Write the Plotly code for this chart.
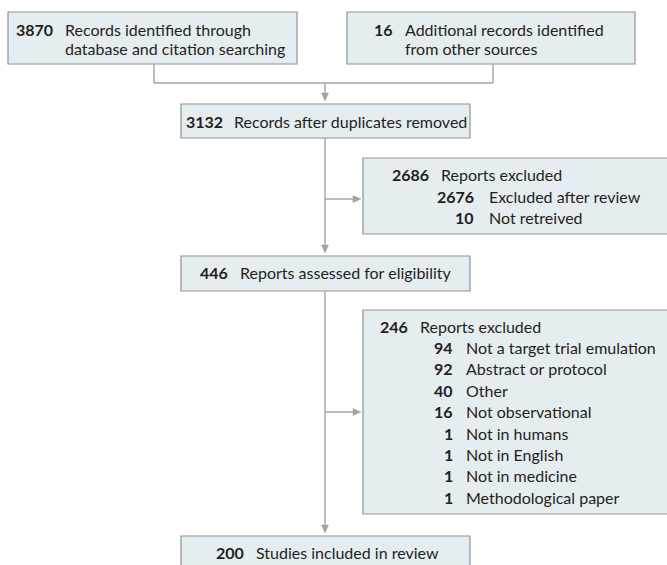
import plotly.graph_objects as go

# ---- data ----
main_counts = [3870, 16, 3132, 446, 200]
main_labels = [
    "Records identified through<br>database and citation searching",
    "Additional records identified<br>from other sources",
    "Records after duplicates removed",
    "Reports assessed for eligibility",
    "Studies included in review",
]
excl1_total = 2686
excl1_title = "Reports excluded"
excl1_counts = [2676, 10]
excl1_labels = ["Excluded after review", "Not retreived"]
excl2_total = 246
excl2_title = "Reports excluded"
excl2_counts = [94, 92, 40, 16, 1, 1, 1, 1]
excl2_labels = [
    "Not a target trial emulation",
    "Abstract or protocol",
    "Other",
    "Not observational",
    "Not in humans",
    "Not in English",
    "Not in medicine",
    "Methodological paper",
]

# ---- layout (pixel coordinates) ----
W, H = 667, 565
FILL = "#e6edf1"
BORDER = "#8e9296"
LINE = "#a3a3a3"
TXT = "#231f20"
FONT = "Lato, Roboto, sans-serif"
FS = 16
DY = -1  # small vertical text nudge

main_boxes = [(8, 297, 12, 64), (347, 635, 12, 64), (181, 470, 104, 138),
              (181, 470, 256, 291), (181, 470, 536, 590)]
# (number right edge, label left edge, first line y, line gap)
main_text = [(55, 63, 30, 19), (395, 403, 30, 19), (225, 232, 122, 0),
             (230, 238, 273, 0), (246, 254, 553, 0)]
excl_boxes = [(363, 690, 158, 234), (363, 690, 310, 514)]

shapes = []
annotations = []

def box(x0, x1, y0, y1):
    shapes.append(dict(type="rect", x0=x0, x1=x1, y0=y0, y1=y1, xref="x", yref="y",
                       fillcolor=FILL, line=dict(color=BORDER, width=1.2), layer="below"))

def line(x0, y0, x1, y1):
    shapes.append(dict(type="line", x0=x0, x1=x1, y0=y0, y1=y1, xref="x", yref="y",
                       line=dict(color=LINE, width=1.4)))

def arrow_down(x, tip):
    shapes.append(dict(type="path", path=f"M {x-3.5} {tip-8} L {x+3.5} {tip-8} L {x} {tip} Z",
                       fillcolor=LINE, line=dict(color=LINE, width=0.5)))

def arrow_right(tip, y):
    shapes.append(dict(type="path", path=f"M {tip-8} {y-3.5} L {tip-8} {y+3.5} L {tip} {y} Z",
                       fillcolor=LINE, line=dict(color=LINE, width=0.5)))

def text(x, y, s, anchor, bold=False):
    annotations.append(dict(x=x, y=y + DY, xref="x", yref="y", text=(f"<b>{s}</b>" if bold else s),
                            showarrow=False, xanchor=anchor, yanchor="middle",
                            font=dict(family=FONT, size=FS, color=TXT)))

for b in main_boxes + excl_boxes:
    box(*b)

for (nr, ll, y, gap), n, lab in zip(main_text, main_counts, main_labels):
    text(nr, y, str(n), "right", True)
    for i, part in enumerate(lab.split("<br>")):
        text(ll, y + i * gap, part, "left")

# exclusion box 1
text(431, 175, str(excl1_total), "right", True)
text(439, 175, excl1_title, "left")
for i, (n, lab) in enumerate(zip(excl1_counts, excl1_labels)):
    y = 197 + i * 21.5
    text(476, y, str(n), "right", True)
    text(487, y, lab, "left")

# exclusion box 2
text(410, 327, str(excl2_total), "right", True)
text(418, 327, excl2_title, "left")
for i, (n, lab) in enumerate(zip(excl2_counts, excl2_labels)):
    y = 348.5 + i * 21.4
    text(455, y, str(n), "right", True)
    text(464, y, lab, "left")

# connectors
line(154, 64, 154, 83)
line(493, 64, 493, 83)
line(154, 83, 493, 83)
line(325, 83, 325, 94)
arrow_down(325, 101)
line(325, 138, 325, 246)
arrow_down(325, 253)
line(325, 199, 354, 199)
arrow_right(361, 199)
line(325, 291, 325, 526)
arrow_down(325, 533)
line(325, 412, 354, 412)
arrow_right(361, 412)

fig = go.Figure()
fig.update_layout(
    width=W, height=H,
    margin=dict(l=0, r=0, t=0, b=0),
    paper_bgcolor="white", plot_bgcolor="white",
    xaxis=dict(range=[0, W], visible=False, fixedrange=True),
    yaxis=dict(range=[H, 0], visible=False, fixedrange=True),
    shapes=shapes, annotations=annotations, showlegend=False,
)
fig.write_html("out.html", config={"displayModeBar": False},
               post_script="document.body.style.margin='0';document.body.style.overflow='hidden';")
